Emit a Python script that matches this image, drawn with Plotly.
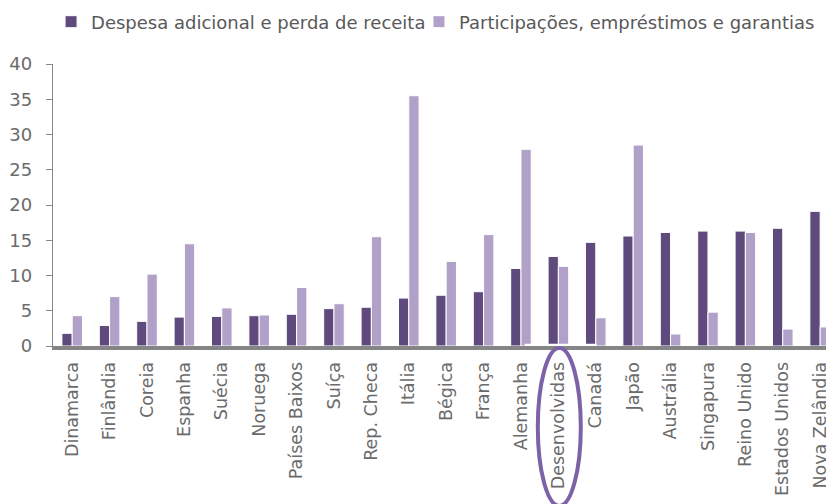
import plotly.graph_objects as go

categories = ["Dinamarca", "Finlândia", "Coreia", "Espanha", "Suécia", "Noruega",
              "Países Baixos", "Suíça", "Rep. Checa", "Itália", "Bégica", "França",
              "Alemanha", "Desenvolvidas", "Canadá", "Japão", "Austrália", "Singapura",
              "Reino Unido", "Estados Unidos", "Nova Zelândia"]
despesa = [1.8, 2.9, 3.5, 4.1, 4.2, 4.3, 4.5, 5.3, 5.5, 6.8, 7.2, 7.7, 11.0,
           12.7, 14.7, 15.6, 16.1, 16.3, 16.3, 16.7, 19.1]
participacoes = [4.3, 7.0, 10.2, 14.5, 5.4, 4.4, 8.3, 6.0, 15.5, 35.5, 12.0, 15.8, 27.9,
                 11.3, 4.0, 28.5, 1.7, 4.8, 16.1, 2.4, 2.7]
series_names = ["Despesa adicional e perda de receita", "Participações, empréstimos e garantias"]
y_ticks = [0, 5, 10, 15, 20, 25, 30, 35, 40]

FONT = "DejaVu Sans"
TXT = "#6b6b6b"

fig = go.Figure()
fig.add_trace(go.Bar(x=list(range(len(categories))), y=despesa, name=series_names[0],
                     legend="legend",
                     marker=dict(color="#5e4a7d", line=dict(color="white", width=1))))
fig.add_trace(go.Bar(x=list(range(len(categories))), y=participacoes, name=series_names[1],
                     legend="legend2",
                     marker=dict(color="#b1a1c8", line=dict(color="white", width=1))))

hi = categories.index("Desenvolvidas")
# faded axis segment under the highlight
fig.add_shape(type="rect", xref="x", yref="paper", x0=hi - 0.9, x1=hi + 1.02,
              y0=0.0, y1=0.008, fillcolor="white", line=dict(width=0), layer="above")
# ellipse highlight
fig.add_shape(type="circle", xref="x", yref="paper", x0=hi - 0.55, x1=hi + 0.6,
              y0=-0.567, y1=-0.007, line=dict(color="#7d62a8", width=4), layer="above")

leg_common = dict(orientation="h", y=1.149, xanchor="left", yanchor="middle",
                  font=dict(family=FONT, size=18, color="#595959"), itemwidth=30,
                  bgcolor="rgba(0,0,0,0)")

fig.update_layout(
    width=826, height=496,
    margin=dict(l=45, r=0, t=56, b=158, autoexpand=False),
    paper_bgcolor="white", plot_bgcolor="white",
    barmode="group", bargap=0.45, bargroupgap=0.0,
    font=dict(family=FONT, size=18, color=TXT),
    legend=dict(x=-0.0025, **leg_common),
    legend2=dict(x=0.4686, **leg_common),
    showlegend=True,
)

fig.update_xaxes(
    tickmode="array", tickvals=list(range(len(categories))), ticktext=categories,
    range=[-0.513, 20.37], tickangle=-90,
    showline=True, linecolor="#858585", linewidth=4,
    showgrid=False, zeroline=False, ticks="",
    tickfont=dict(family=FONT, size=17.5, color=TXT),
    ticklabelstandoff=5,
)
fig.update_yaxes(
    range=[0, 40], tickmode="array", tickvals=y_ticks,
    showline=True, linecolor="#898989", linewidth=1.3,
    ticks="outside", ticklen=6, tickcolor="#898989", tickwidth=1.3,
    showgrid=False, zeroline=False,
    tickfont=dict(family=FONT, size=18, color=TXT),
    ticklabelstandoff=10,
)

fig.write_html("out.html")
